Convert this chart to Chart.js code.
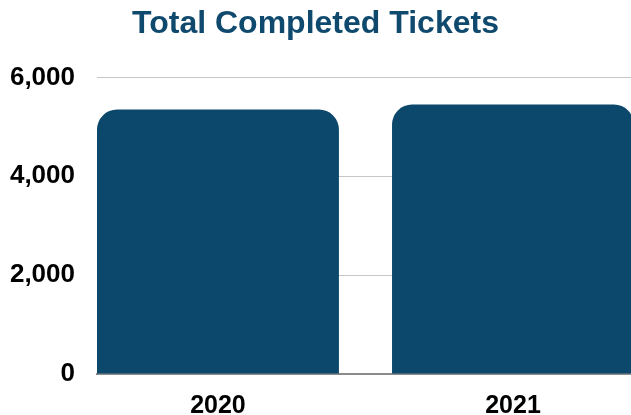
<!DOCTYPE html>
<html>
<head>
<meta charset="utf-8">
<title>Total Completed Tickets</title>
<script src="https://cdn.jsdelivr.net/npm/chart.js@4.4.1/dist/chart.umd.min.js"></script>
<style>
  html, body { margin: 0; padding: 0; background: #ffffff; overflow: hidden; }
  #wrap { width: 631px; height: 415px; }
</style>
</head>
<body>
<div id="wrap"><canvas id="tickets" width="631" height="415"></canvas></div>
<script>
const years = ['2020', '2021'];
const completed = [5350, 5450];
const yTicks = [0, 2000, 4000, 6000];

const navy = '#0c486b';
const font = 'Liberation Sans, Arial, sans-serif';

// bars sit on a linear index axis so the first bar can start flush with the grid
const points = years.map((y, i) => ({ x: i, y: completed[i] }));

const ctx = document.getElementById('tickets').getContext('2d');
const chart = new Chart(ctx, {
    type: 'bar',
    data: {
        datasets: [{
            label: 'Completed Tickets',
            data: points,
            backgroundColor: navy,
            borderRadius: 20,
            borderSkipped: 'start',
            categoryPercentage: 1,
            barPercentage: 0.82
        }]
    },
    options: {
        responsive: false,
        animation: false,
        layout: {
            padding: 0
        },
        plugins: {
            legend: { display: false },
            tooltip: { enabled: false },
            title: {
                display: true,
                text: 'Total Completed Tickets',
                color: '#0f4a6e',
                font: { family: font, size: 32, weight: 'bold' },
                padding: { top: 5, bottom: 34 }
            }
        },
        scales: {
            x: {
                type: 'linear',
                offset: false,
                min: -0.41,
                max: 1.4,
                afterBuildTicks: (scale) => {
                    scale.ticks = years.map((_, i) => ({ value: i }));
                },
                afterFit: (scale) => { scale.height = 41; },
                grid: { display: false, drawTicks: false },
                border: { display: true, color: '#8a8a8a', width: 2 },
                ticks: {
                    color: '#000000',
                    padding: 17,
                    font: { family: font, size: 25, weight: 'bold' },
                    callback: (v) => years[v]
                }
            },
            y: {
                min: 0,
                max: 6000,
                afterBuildTicks: (scale) => {
                    scale.ticks = yTicks.map(v => ({ value: v }));
                },
                afterFit: (scale) => { scale.width = 97; },
                grid: { color: '#c6c6c6', lineWidth: 1, drawTicks: false },
                border: { display: false },
                ticks: {
                    color: '#000000',
                    padding: 22,
                    font: { family: font, size: 26, weight: 'bold' },
                    callback: (v) => v.toLocaleString('en-US')
                }
            }
        }
    }
});
</script>
</body>
</html>
